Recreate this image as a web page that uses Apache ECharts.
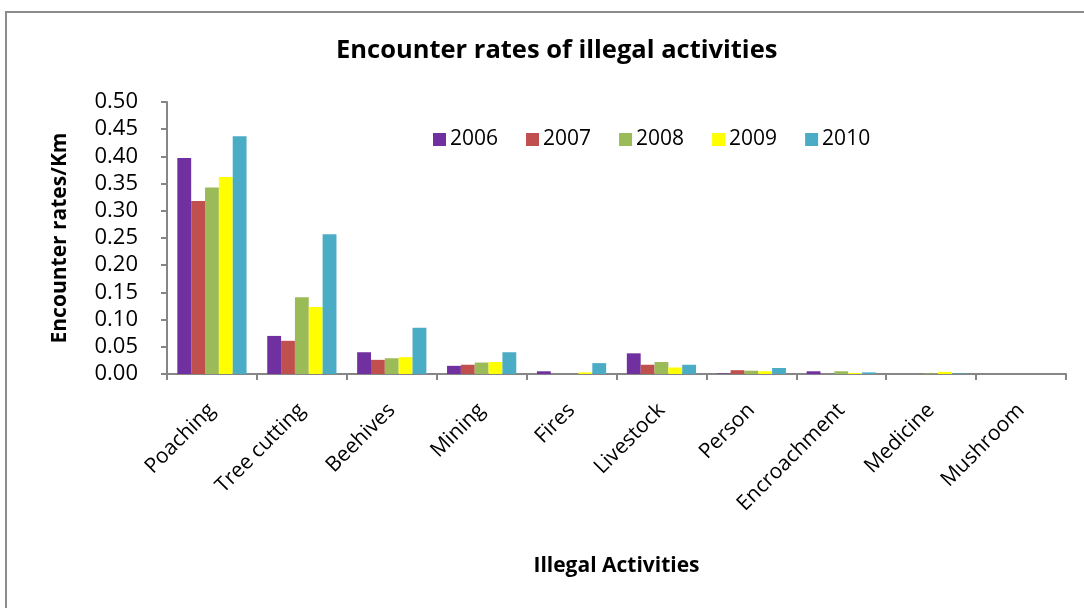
<!DOCTYPE html>
<html>
<head>
<meta charset="utf-8">
<script src="https://cdn.jsdelivr.net/npm/echarts@6/dist/echarts.min.js"></script>
<style>html,body{margin:0;padding:0;background:#fff}#c{width:1084px;height:608px}</style>
</head>
<body>
<div id="c"></div>
<script>
const categories = ['Poaching','Tree cutting','Beehives','Mining','Fires','Livestock','Person','Encroachment','Medicine','Mushroom'];
const years = ['2006','2007','2008','2009','2010'];
const v2006 = [0.397, 0.070, 0.040, 0.015, 0.005, 0.038, 0.001, 0.005, 0, 0];
const v2007 = [0.318, 0.061, 0.026, 0.017, 0, 0.017, 0.007, 0, 0, 0];
const v2008 = [0.343, 0.141, 0.029, 0.021, 0, 0.022, 0.006, 0.005, 0.001, 0];
const v2009 = [0.362, 0.123, 0.031, 0.022, 0.003, 0.012, 0.005, 0.002, 0.004, 0];
const v2010 = [0.437, 0.257, 0.085, 0.040, 0.020, 0.017, 0.011, 0.003, 0.001, 0];
const seriesValues = [v2006, v2007, v2008, v2009, v2010];
const colors = ['#7030A0','#C0504D','#9BBB59','#FFFF00','#4BACC6'];
const yTicks = ['0.00','0.05','0.10','0.15','0.20','0.25','0.30','0.35','0.40','0.45','0.50'];

const font = 'Open Sans';
const chart = echarts.init(document.getElementById('c'));
chart.setOption({
  animation: false,
  backgroundColor: '#fff',
  color: colors,
  graphic: [{
    type: 'rect', silent: true, z: -1,
    shape: {x: 6, y: 12, width: 1100, height: 620},
    style: {fill: 'none', stroke: '#8c8c8c', lineWidth: 2}
  }],
  title: {
    text: 'Encounter rates of illegal activities',
    left: 331, top: 33,
    textStyle: {fontFamily: font, fontWeight: 'bold', fontSize: 25.5, color: '#000'}
  },
  legend: {
    data: years,
    left: 428, top: 124,
    itemWidth: 13, itemHeight: 13, itemGap: 28,
    icon: 'rect',
    textStyle: {fontFamily: font, fontSize: 21, color: '#000', padding: [0,0,0,-1]}
  },
  grid: {left: 167, right: 18, top: 102, bottom: 234, containLabel: false},
  xAxis: {
    type: 'category',
    data: categories,
    name: 'Illegal Activities',
    nameLocation: 'middle',
    nameGap: 182,
    nameTextStyle: {fontFamily: font, fontWeight: 'bold', fontSize: 21, color: '#000'},
    axisLine: {lineStyle: {color: '#868686', width: 2}},
    axisTick: {show: true, length: 6, lineStyle: {color: '#868686', width: 2}},
    axisLabel: {rotate: 45, margin: 33, fontFamily: font, fontSize: 21, color: '#000', interval: 0}
  },
  yAxis: {
    type: 'value',
    min: 0, max: 0.5, interval: 0.05,
    name: 'Encounter rates/Km',
    nameLocation: 'middle',
    nameGap: 96,
    nameTextStyle: {fontFamily: font, fontWeight: 'bold', fontSize: 21, color: '#000'},
    splitLine: {show: false},
    axisLine: {show: true, lineStyle: {color: '#868686', width: 2}},
    axisTick: {show: true, length: 6, lineStyle: {color: '#868686', width: 2}},
    axisLabel: {
      margin: 29, fontFamily: font, fontSize: 22, color: '#000',
      formatter: (v) => yTicks[Math.round(v / 0.05)]
    }
  },
  series: years.map((y, i) => ({
    name: y,
    type: 'bar',
    data: seriesValues[i],
    barGap: '0%',
    barCategoryGap: '23%',
    itemStyle: {color: colors[i]}
  }))
});
</script>
</body>
</html>
